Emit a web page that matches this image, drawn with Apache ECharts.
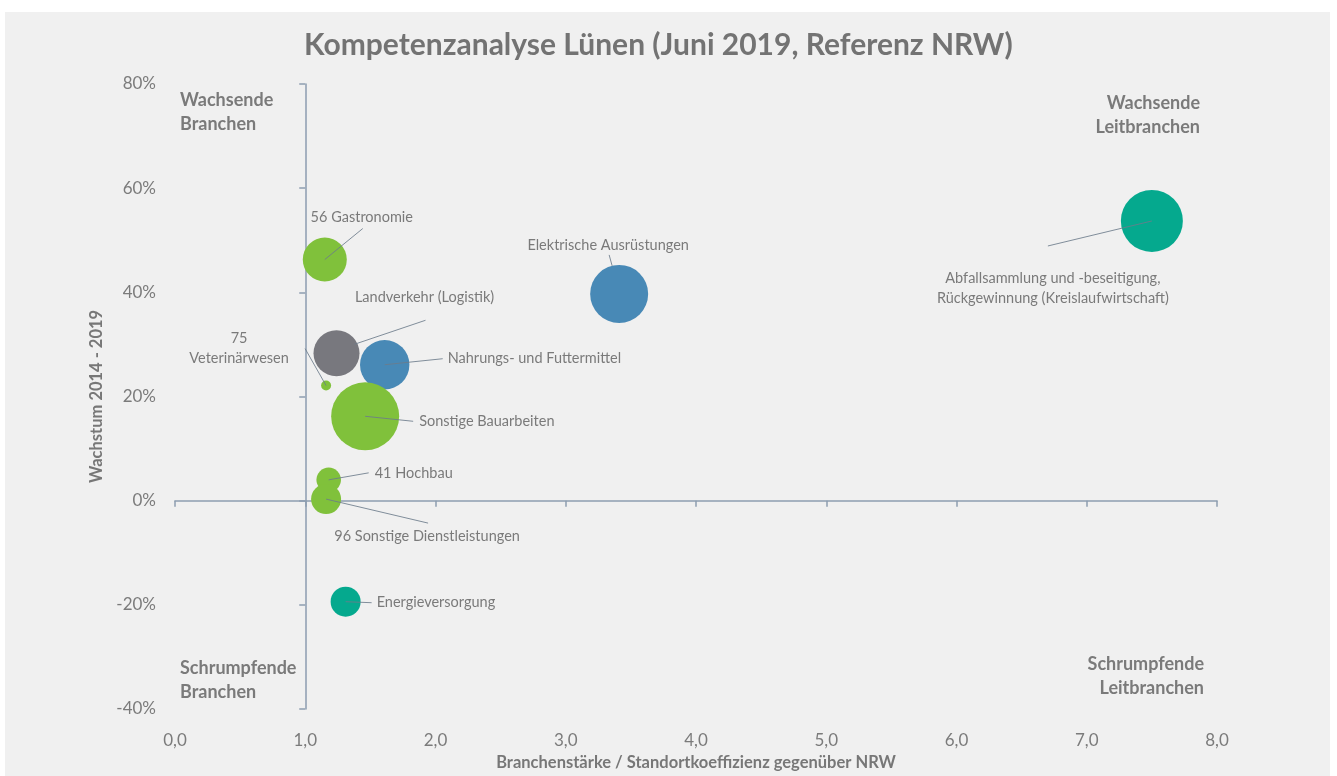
<!DOCTYPE html>
<html lang="de">
<head>
<meta charset="utf-8">
<title>Kompetenzanalyse Lünen</title>
<script src="https://cdn.jsdelivr.net/npm/echarts@6/dist/echarts.min.js"></script>
<style>
  html, body { margin: 0; padding: 0; background: #ffffff; }
  #chart { width: 1337px; height: 776px; }
</style>
</head>
<body>
<div id="chart"></div>
<script>
// Branches (Wirtschaftszweige) with location quotient vs. NRW, growth 2014-2019 and bubble weight
const branchen = [
  '56 Gastronomie',
  'Landverkehr (Logistik)',
  'Nahrungs- und Futtermittel',
  '75\nVeterinärwesen',
  'Sonstige Bauarbeiten',
  '41 Hochbau',
  '96 Sonstige Dienstleistungen',
  'Energieversorgung',
  'Elektrische Ausrüstungen',
  'Abfallsammlung und -beseitigung,\nRückgewinnung (Kreislaufwirtschaft)'
];
const standortkoeffizient = [1.15, 1.24, 1.61, 1.16, 1.46, 1.18, 1.16, 1.31, 3.41, 7.50];
const wachstum = [0.463, 0.283, 0.261, 0.221, 0.162, 0.040, 0.003, -0.194, 0.397, 0.537];
const gewicht = [484, 529, 610, 25, 1156, 151, 225, 225, 841, 961];
const gruppe = ['gruen', 'grau', 'blau', 'gruen', 'gruen', 'gruen', 'gruen', 'tuerkis', 'blau', 'tuerkis'];

const xTicks = ['0,0', '1,0', '2,0', '3,0', '4,0', '5,0', '6,0', '7,0', '8,0'];
const yTicks = ['-40%', '-20%', '0%', '20%', '40%', '60%', '80%'];

// styling
const farben = { gruen: '#80c13b', grau: '#78787e', blau: '#4889b6', tuerkis: '#05a98e' };
// label offsets from the bubble centre in px [dx, dy, align]
const labelOffsets = [
  [37, -42, 'center'],
  [88, -56, 'center'],
  [63, -6, 'left'],
  [-87, -37, 'center'],
  [54, 5, 'left'],
  [46, -7, 'left'],
  [101, 37, 'center'],
  [31, 1, 'left'],
  [-11, -49, 'center'],
  [-99, 67, 'center']
];
// leader lines: [start dx, start dy, end dx, end dy] relative to the bubble centre in px
const leaderLines = [
  [0, 0, 38, -31],
  [18, -9, 89, -33],
  [0, 0, 58, -6],
  [0, 0, -21, -37],
  [0, 0, 48, 5],
  [0, 0, 40, -7],
  [0, 0, 102, 24],
  [0, 0, 26, 1],
  [-7, -28, -10, -39],
  [0, 0, -104, 25]
];

const FONT = 'Lato, "Open Sans", sans-serif';
const AXIS_COLOR = '#8d9db0';
const TEXT_COLOR = '#7b7b7b';

const grid = { left: 175, right: 120, top: 84, bottom: 67, outerBoundsMode: 'none' };
const plotW = 1337 - grid.left - grid.right;
const xMin = 0, xMax = 8, xCross = 1;

const daten = branchen.map((name, i) => ({
  name: name,
  value: [standortkoeffizient[i], wachstum[i], gewicht[i]],
  itemStyle: { color: farben[gruppe[i]] },
  label: { align: labelOffsets[i][2] }
}));
const punkte = standortkoeffizient.map((x, i) => [x, wachstum[i]]);

const chart = echarts.init(document.getElementById('chart'), null, { renderer: 'canvas' });

const quadrantText = (x, y, text, align) => ({
  type: 'text', left: align === 'left' ? x : undefined, right: align === 'right' ? 1337 - x : undefined, top: y,
  style: { text: text, font: 'bold 18px ' + FONT, fill: '#7a7a7a', textAlign: align, lineHeight: 24 }
});

chart.setOption({
  backgroundColor: 'transparent',
  animation: false,
  title: {
    text: 'Kompetenzanalyse Lünen (Juni 2019, Referenz NRW)',
    left: 299, top: 25,
    textStyle: { fontFamily: FONT, fontWeight: 'bold', fontSize: 30, color: '#737373' }
  },
  graphic: [
    { type: 'rect', z: -10, shape: { x: 5, y: 12, width: 1325, height: 764 }, style: { fill: '#f0f0f0' } },
    quadrantText(180, 88, 'Wachsende\nBranchen', 'left'),
    quadrantText(1200, 91, 'Wachsende\nLeitbranchen', 'right'),
    quadrantText(180, 656, 'Schrumpfende\nBranchen', 'left'),
    quadrantText(1204, 652, 'Schrumpfende\nLeitbranchen', 'right')
  ],
  grid: [
    grid,
    { left: grid.left + plotW * (xCross - xMin) / (xMax - xMin), right: grid.right, top: grid.top, bottom: grid.bottom, outerBoundsMode: 'none' }
  ],
  xAxis: [
    {
      type: 'value', gridIndex: 0, min: xMin, max: xMax, interval: 1,
      name: 'Branchenstärke / Standortkoeffizienz gegenüber NRW',
      nameLocation: 'middle', nameGap: 45,
      nameTextStyle: { fontFamily: FONT, fontWeight: 'bold', fontSize: 16.5, color: '#777777' },
      axisLine: { show: false, onZero: false },
      axisTick: { show: false },
      splitLine: { show: false },
      axisLabel: {
        margin: 23, fontFamily: FONT, fontSize: 17, color: TEXT_COLOR,
        formatter: (v) => xTicks[Math.round(v - xMin)]
      }
    },
    {
      type: 'value', gridIndex: 0, min: xMin, max: xMax, interval: 1, position: 'bottom',
      axisLine: { show: true, onZero: true, lineStyle: { color: AXIS_COLOR, width: 1.5 } },
      axisTick: { show: true, length: 6, lineStyle: { color: AXIS_COLOR, width: 1.5 } },
      axisLabel: { show: false },
      splitLine: { show: false }
    },
    { type: 'value', gridIndex: 1, min: xCross, max: xMax, show: false }
  ],
  yAxis: [
    {
      type: 'value', gridIndex: 0, min: -0.4, max: 0.8, interval: 0.2,
      name: 'Wachstum 2014 - 2019',
      nameLocation: 'middle', nameGap: 62, nameRotate: 90,
      nameTextStyle: { fontFamily: FONT, fontWeight: 'bold', fontSize: 16.5, color: '#777777' },
      axisLine: { show: false },
      axisTick: { show: false },
      splitLine: { show: false },
      axisLabel: {
        margin: 19, fontFamily: FONT, fontSize: 17, color: TEXT_COLOR,
        formatter: (v) => yTicks[Math.round((v + 0.4) / 0.2)]
      }
    },
    {
      type: 'value', gridIndex: 1, min: -0.4, max: 0.8, interval: 0.2, position: 'left',
      axisLine: { show: true, onZero: false, lineStyle: { color: AXIS_COLOR, width: 1.5 } },
      axisTick: { show: true, length: 6, lineStyle: { color: AXIS_COLOR, width: 1.5 } },
      axisLabel: { show: false },
      splitLine: { show: false }
    }
  ],
  series: [
    {
      type: 'scatter',
      xAxisIndex: 0, yAxisIndex: 0,
      data: daten,
      symbolSize: (v) => 2 * Math.sqrt(v[2]),
      itemStyle: { opacity: 1 },
      label: {
        show: true, position: 'inside',
        formatter: (p) => p.name,
        fontFamily: FONT, fontSize: 14.5, color: '#7a7a7a', lineHeight: 20
      },
      labelLayout: (p) => ({ dx: labelOffsets[p.dataIndex][0], dy: labelOffsets[p.dataIndex][1] }),
      emphasis: { disabled: true },
      z: 3
    },
    {
      // leader lines from each bubble towards its label
      type: 'custom',
      xAxisIndex: 0, yAxisIndex: 0,
      data: punkte,
      silent: true,
      z: 4,
      renderItem: (params, api) => {
        const c = api.coord([api.value(0), api.value(1)]);
        const l = leaderLines[params.dataIndex];
        return {
          type: 'line',
          shape: { x1: c[0] + l[0], y1: c[1] + l[1], x2: c[0] + l[2], y2: c[1] + l[3] },
          style: { stroke: '#6c7b8b', lineWidth: 1, opacity: 0.85 }
        };
      }
    }
  ]
});
</script>
</body>
</html>
